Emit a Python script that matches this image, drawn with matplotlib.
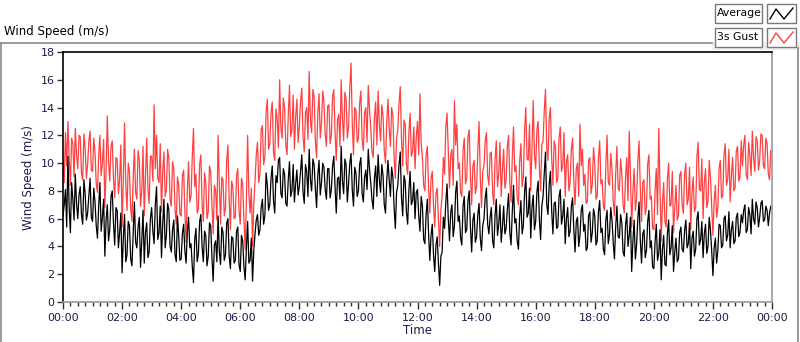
import numpy as np
import matplotlib
matplotlib.use("Agg")
import matplotlib.pyplot as plt
from matplotlib.patches import Rectangle
from matplotlib.lines import Line2D

# 2.5-minute samples, 24 per hour (00:00 .. 23:57.5)
average = [
    6.2, 7.0, 8.1, 5.4, 10.5, 6.8, 5.0, 8.6, 7.4, 5.9, 9.2, 7.1, 6.0, 7.7, 8.3, 6.3, 5.6, 8.8, 7.8, 5.9, 6.4, 7.6, 8.9, 6.1,
    5.8, 8.2, 7.2, 5.5, 4.6, 6.9, 8.6, 5.1, 6.1, 7.4, 3.3, 5.9, 7.0, 4.4, 5.2, 7.6, 8.0, 5.7, 4.1, 6.8, 6.6, 3.9, 5.0, 6.4,
    2.1, 4.6, 6.3, 2.9, 3.4, 5.8, 5.5, 3.1, 2.6, 4.9, 7.2, 4.3, 3.9, 5.4, 6.1, 2.5, 4.4, 6.6, 2.8, 5.0, 5.7, 3.2, 3.6, 6.0,
    6.8, 5.1, 4.2, 7.0, 8.3, 4.5, 5.0, 6.9, 3.2, 5.6, 7.4, 3.9, 4.8, 7.1, 6.6, 4.0, 3.6, 5.2, 5.9, 3.4, 2.9, 6.2, 4.7, 3.0,
    3.1, 4.9, 5.6, 3.7, 2.8, 5.0, 6.1, 3.9, 4.2, 2.6, 1.4, 4.5, 5.3, 2.9, 3.5, 5.8, 6.3, 4.0, 2.9, 5.1, 4.8, 2.6, 3.3, 5.7,
    5.5, 3.2, 1.5, 4.1, 4.4, 2.9, 6.2, 3.6, 2.7, 5.4, 5.0, 3.0, 3.4, 5.7, 6.0, 3.3, 2.4, 4.7, 4.6, 2.8, 3.0, 5.1, 5.4, 2.7,
    2.2, 4.8, 4.4, 2.5, 1.6, 3.9, 5.8, 2.8, 3.0, 4.6, 1.5, 3.7, 4.9, 5.9, 6.3, 4.8, 5.2, 6.8, 7.4, 5.6, 6.2, 9.3, 8.4, 6.6,
    7.0, 8.9, 9.8, 7.3, 6.4, 9.1, 8.6, 10.2, 10.4, 7.8, 7.5, 9.6, 9.2, 7.1, 6.9, 8.8, 10.1, 7.6, 8.0, 9.9, 7.2, 8.5, 9.5, 7.7,
    8.3, 9.5, 10.6, 7.9, 7.1, 9.9, 9.4, 7.6, 11.0, 8.8, 8.0, 10.3, 9.9, 8.2, 6.8, 9.1, 10.2, 7.7, 8.6, 10.0, 9.7, 8.1, 7.4, 9.6,
    9.6, 7.5, 8.1, 9.8, 10.5, 8.3, 6.4, 8.9, 9.0, 7.4, 11.2, 8.7, 7.8, 10.3, 9.9, 7.2, 8.5, 10.0, 10.7, 8.1, 6.9, 9.7, 9.3, 7.6,
    8.0, 9.9, 10.4, 7.8, 7.2, 9.0, 9.5, 8.1, 11.0, 9.6, 8.6, 7.4, 6.7, 8.9, 9.8, 7.6, 10.6, 8.8, 7.9, 9.9, 9.1, 7.0, 6.4, 8.7,
    10.2, 8.8, 7.6, 9.7, 9.0, 6.8, 5.3, 7.9, 8.4, 9.9, 10.8, 7.5, 6.2, 9.1, 8.7, 6.5, 5.6, 8.0, 9.4, 7.0, 7.3, 8.6, 6.0, 7.9,
    8.1, 6.2, 5.1, 7.6, 6.9, 4.5, 4.2, 6.3, 7.4, 4.9, 3.0, 4.8, 5.6, 3.4, 2.2, 4.1, 4.7, 2.8, 1.2, 3.3, 3.6, 6.1, 5.3, 7.2,
    8.5, 6.0, 4.4, 6.5, 7.0, 4.7, 5.5, 7.9, 8.7, 5.8, 6.2, 4.6, 4.1, 6.9, 7.6, 5.0, 5.2, 7.3, 8.0, 5.4, 3.6, 5.9, 6.4, 4.3,
    4.7, 6.3, 7.1, 4.6, 3.7, 5.5, 6.0, 7.5, 8.2, 5.6, 4.9, 6.1, 6.8, 4.4, 3.9, 6.2, 7.4, 4.8, 5.6, 7.0, 4.3, 5.4, 6.9, 4.9,
    5.3, 6.7, 7.8, 5.0, 4.1, 6.5, 8.4, 5.7, 6.0, 4.4, 3.8, 6.2, 7.3, 4.9, 5.5, 7.9, 9.0, 6.1, 6.4, 8.2, 4.6, 6.8, 7.7, 5.2,
    5.8, 7.9, 8.7, 6.0, 4.5, 6.9, 7.6, 9.3, 10.8, 7.0, 6.3, 8.5, 9.4, 6.6, 4.9, 7.1, 7.2, 5.3, 5.4, 7.6, 8.1, 5.6, 6.2, 7.4,
    4.2, 6.0, 6.8, 4.7, 5.1, 6.9, 7.5, 5.2, 3.6, 5.8, 6.1, 4.0, 4.8, 6.6, 7.0, 5.1, 5.6, 3.7, 3.9, 6.2, 6.5, 4.3, 5.0, 6.7,
    6.2, 4.1, 4.4, 6.5, 7.3, 5.0, 5.3, 3.8, 3.4, 5.9, 6.6, 4.2, 4.9, 6.8, 5.9, 4.3, 3.1, 5.4, 6.9, 4.7, 4.6, 6.3, 5.7, 3.6,
    3.3, 5.5, 6.4, 4.0, 4.8, 6.1, 2.2, 4.4, 5.9, 3.1, 4.1, 6.0, 7.2, 4.5, 2.8, 4.9, 5.2, 3.2, 3.7, 5.8, 6.6, 3.9, 4.4, 2.5,
    2.4, 4.3, 5.6, 3.0, 3.5, 5.2, 1.6, 3.8, 4.8, 2.7, 2.6, 4.9, 5.9, 3.4, 3.9, 5.5, 2.2, 3.6, 4.6, 2.9, 3.1, 5.0, 5.4, 3.8,
    3.6, 5.2, 5.9, 3.9, 4.2, 5.7, 2.4, 4.6, 5.1, 3.3, 3.8, 6.0, 6.5, 4.1, 4.5, 5.8, 3.2, 4.9, 5.6, 3.5, 4.0, 6.1, 5.2, 3.7,
    1.9, 3.9, 4.6, 2.8, 3.7, 5.6, 5.5, 3.9, 4.1, 6.0, 6.2, 4.4, 4.8, 6.5, 3.9, 5.2, 5.8, 4.2, 4.4, 6.1, 6.4, 4.7, 5.0, 6.3,
    5.7, 6.6, 7.0, 5.0, 5.2, 6.8, 6.3, 4.9, 7.4, 6.0, 5.6, 7.2, 6.8, 5.4, 6.1, 7.1, 7.3, 5.8, 5.9, 6.9, 6.6, 5.5, 6.4, 6.9,
]

gust = [
    10.2, 8.6, 12.2, 9.8, 13.0, 10.4, 8.4, 11.8, 11.4, 9.0, 12.5, 10.6, 9.6, 12.0, 11.9, 9.3, 8.8, 12.1, 11.1, 8.9, 9.9, 11.6, 12.3, 9.5,
    9.4, 11.8, 10.8, 8.5, 7.9, 10.6, 12.0, 9.1, 10.0, 11.7, 6.8, 9.5, 13.4, 10.1, 8.7, 11.2, 11.6, 8.9, 7.5, 10.4, 10.3, 7.8, 8.8, 11.3,
    5.4, 8.8, 12.9, 8.4, 6.6, 10.0, 9.4, 6.7, 5.8, 8.9, 11.0, 7.9, 7.4, 10.9, 10.2, 6.9, 8.0, 11.2, 6.2, 9.0, 11.8, 8.1, 7.1, 10.5,
    10.5, 8.7, 14.2, 9.6, 12.0, 8.9, 8.6, 11.4, 6.5, 9.3, 10.8, 7.6, 8.1, 11.0, 10.3, 7.4, 6.9, 10.1, 9.6, 6.7, 5.6, 9.0, 8.4, 6.3,
    6.2, 9.1, 9.5, 6.5, 4.3, 8.0, 10.1, 7.2, 7.6, 10.4, 12.5, 8.3, 9.2, 6.4, 6.7, 9.9, 10.6, 7.0, 5.8, 9.3, 8.6, 6.0, 6.5, 9.8,
    9.4, 7.0, 4.9, 8.4, 8.0, 5.9, 12.0, 8.5, 5.6, 9.0, 8.8, 6.2, 6.8, 10.2, 11.3, 7.3, 5.2, 8.7, 8.3, 6.0, 6.1, 9.1, 9.6, 6.6,
    5.6, 8.9, 8.5, 5.9, 3.8, 7.4, 12.0, 7.8, 6.4, 8.2, 4.0, 7.1, 8.7, 10.6, 11.5, 8.6, 9.2, 12.4, 12.7, 9.9, 10.4, 13.7, 14.6, 11.0,
    11.4, 13.6, 14.4, 10.8, 10.2, 13.9, 13.2, 11.1, 16.0, 12.5, 11.8, 14.7, 14.0, 11.3, 10.6, 13.4, 15.6, 11.9, 12.4, 14.9, 11.0, 13.3, 14.6, 11.5,
    12.6, 14.5, 15.4, 11.9, 10.8, 13.6, 14.0, 11.7, 16.6, 13.1, 12.2, 15.3, 14.8, 11.6, 10.4, 13.5, 15.0, 11.8, 12.9, 15.2, 14.4, 12.1, 11.2, 14.1,
    14.2, 11.4, 12.0, 14.8, 15.3, 12.3, 10.2, 13.1, 13.5, 11.2, 16.0, 13.2, 11.6, 15.1, 14.6, 11.8, 12.6, 15.4, 17.2, 12.9, 10.6, 14.0, 13.8, 11.5,
    11.8, 14.3, 15.2, 11.7, 10.9, 13.6, 14.0, 11.5, 15.6, 13.9, 12.6, 10.8, 10.4, 13.3, 14.4, 11.3, 15.2, 12.8, 11.6, 14.2, 13.4, 10.9, 10.0, 12.9,
    14.6, 12.5, 11.2, 14.0, 13.4, 10.4, 8.9, 11.8, 12.4, 14.3, 15.5, 11.7, 9.8, 13.1, 12.8, 9.9, 9.2, 12.2, 13.6, 10.5, 10.8, 12.6, 9.6, 11.9,
    13.0, 10.6, 15.0, 11.4, 10.4, 8.4, 8.0, 10.6, 11.2, 8.3, 6.4, 8.9, 9.4, 7.0, 5.4, 7.8, 8.2, 5.9, 4.0, 6.6, 7.6, 10.4, 9.2, 12.6,
    13.6, 10.8, 8.2, 10.6, 11.0, 8.4, 14.5, 11.3, 12.8, 9.6, 10.0, 7.9, 7.6, 10.9, 11.8, 8.5, 8.9, 11.9, 12.4, 9.1, 7.0, 9.8, 10.2, 7.8,
    8.3, 10.9, 13.0, 9.0, 6.8, 9.4, 9.8, 11.6, 12.2, 9.1, 8.4, 10.7, 10.8, 7.9, 7.0, 10.2, 11.6, 8.3, 9.2, 11.5, 7.6, 9.5, 11.0, 8.2,
    8.8, 11.2, 12.0, 8.6, 7.2, 10.4, 12.6, 9.4, 9.8, 7.5, 7.0, 10.1, 11.4, 8.3, 9.0, 12.3, 14.0, 10.3, 10.2, 12.8, 8.0, 11.0, 14.5, 10.6,
    9.6, 12.4, 13.0, 9.7, 8.0, 11.3, 11.6, 13.8, 15.3, 11.1, 10.2, 13.2, 14.0, 10.4, 8.4, 11.6, 11.2, 8.6, 8.9, 11.8, 12.6, 9.4, 9.8, 12.2,
    7.6, 10.1, 10.6, 8.0, 8.6, 11.0, 11.8, 8.7, 7.0, 9.6, 10.0, 7.6, 12.8, 9.8, 11.0, 8.4, 9.2, 7.1, 7.2, 10.2, 10.4, 7.8, 8.5, 11.1,
    10.0, 7.4, 7.6, 10.4, 11.6, 8.5, 8.8, 6.9, 6.6, 9.7, 12.0, 8.6, 8.4, 10.7, 9.6, 7.3, 6.2, 9.2, 11.2, 8.2, 8.0, 10.3, 9.2, 7.0,
    6.4, 9.0, 10.4, 7.3, 12.3, 9.1, 5.4, 8.0, 9.6, 6.6, 7.4, 10.1, 11.6, 8.2, 5.8, 8.6, 8.8, 6.3, 6.8, 9.9, 10.6, 7.4, 7.6, 5.3,
    5.2, 8.0, 9.6, 6.3, 12.5, 8.2, 4.4, 7.1, 8.6, 5.8, 5.4, 8.8, 10.0, 6.9, 7.0, 9.4, 5.0, 6.8, 8.4, 5.9, 6.2, 9.1, 9.4, 7.0,
    6.4, 9.2, 10.0, 7.0, 7.4, 9.7, 5.2, 7.9, 9.0, 6.5, 6.8, 10.4, 11.5, 8.1, 8.0, 10.3, 6.0, 8.6, 9.6, 6.8, 7.2, 10.2, 9.0, 6.9,
    4.8, 7.2, 8.4, 6.1, 6.8, 9.6, 10.2, 7.5, 7.6, 10.6, 11.4, 8.4, 8.8, 11.0, 7.2, 9.1, 10.4, 8.0, 8.2, 10.9, 11.2, 8.7, 9.0, 11.6,
    9.8, 11.3, 12.0, 9.2, 8.8, 11.5, 10.6, 9.1, 12.3, 10.4, 9.4, 11.9, 11.6, 9.5, 10.2, 12.1, 12.0, 9.8, 9.6, 11.8, 11.4, 9.2, 8.8, 10.9,
]

hour_ticks = list(range(0, 25, 2))
hour_labels = ["%02d:00" % (h % 24) for h in hour_ticks]
y_ticks = list(range(0, 19, 2))
series_names = ["Average", "3s Gust"]
series_colors = ["#000000", "#ff4040"]

t = np.arange(len(average)) / 24.0

W, H = 800, 342
fig = plt.figure(figsize=(W / 100, H / 100), dpi=100)
fig.patch.set_facecolor("white")

# outer panel frame
fig.add_artist(Line2D([1 / W, 712 / W], [1 - 42.5 / H, 1 - 42.5 / H], color="#8a8a8a", lw=1.2, transform=fig.transFigure))
fig.add_artist(Line2D([1 / W, 1 / W], [1 - 42.5 / H, 0], color="#8a8a8a", lw=1.2, transform=fig.transFigure))
fig.add_artist(Line2D([798 / W, 798 / W], [1 - 48 / H, 0], color="#8a8a8a", lw=1.2, transform=fig.transFigure))
fig.add_artist(Rectangle((712 / W, 1 - 50 / H), 88 / W, 8 / H, transform=fig.transFigure,
                         facecolor="#f0f0f0", edgecolor="none"))

fig.text(4 / W, 1 - 32 / H, "Wind Speed (m/s)", fontsize=8.5, color="#000000", va="center", ha="left")

ax = fig.add_axes([63 / W, 1 - 302 / H, (772 - 63) / W, (302 - 52) / H])
ax.plot(t, gust, color=series_colors[1], lw=0.9)
ax.plot(t, average, color=series_colors[0], lw=0.9)
ax.set_xlim(0, 24)
ax.set_ylim(0, 18)
ax.set_xticks(hour_ticks)
ax.set_xticklabels(hour_labels)
ax.set_xticks(np.arange(0, 24.01, 0.25), minor=True)
ax.set_yticks(y_ticks)
lab_color = "#1c1c4a"
ax.tick_params(axis="x", which="major", length=5, width=1, color="#303030", labelsize=8, labelcolor=lab_color, pad=3)
ax.tick_params(axis="x", which="minor", length=3, width=1, color="#303030")
ax.tick_params(axis="y", which="major", length=4, width=1, color="#303030", labelsize=8, labelcolor=lab_color, pad=2)
ax.spines["top"].set_color("#000000")
ax.spines["left"].set_color("#000000")
ax.spines["right"].set_color("#9a9a9a")
ax.spines["bottom"].set_color("#9a9a9a")
for s in ax.spines.values():
    s.set_linewidth(1.2)
ax.set_xlabel("Time", fontsize=8.5, color=lab_color, labelpad=1)
ax.set_ylabel("Wind Speed (m/s)", fontsize=8.5, color=lab_color, labelpad=4)

# legend boxes
for i, (name, col) in enumerate(zip(series_names, series_colors)):
    top = 4 + i * 24
    hgt = 19
    fig.add_artist(Rectangle((715 / W, 1 - (top + hgt) / H), 47 / W, hgt / H, transform=fig.transFigure,
                             facecolor="white", edgecolor="#7a7a7a", lw=1.0))
    fig.text(717 / W, 1 - (top + hgt / 2) / H, name, fontsize=7.8, color="#000000", va="center", ha="left")
    fig.add_artist(Rectangle((767 / W, 1 - (top + hgt) / H), 29 / W, hgt / H, transform=fig.transFigure,
                             facecolor="white", edgecolor="#7a7a7a", lw=1.0))
    xs = np.array([770, 776, 784, 793]) / W
    ys = 1 - np.array([top + 15, top + 5, top + 15, top + 4]) / H
    fig.add_artist(Line2D(xs, ys, color=col, lw=1.0, transform=fig.transFigure))

fig.savefig("out.png", dpi=100, facecolor="white")
